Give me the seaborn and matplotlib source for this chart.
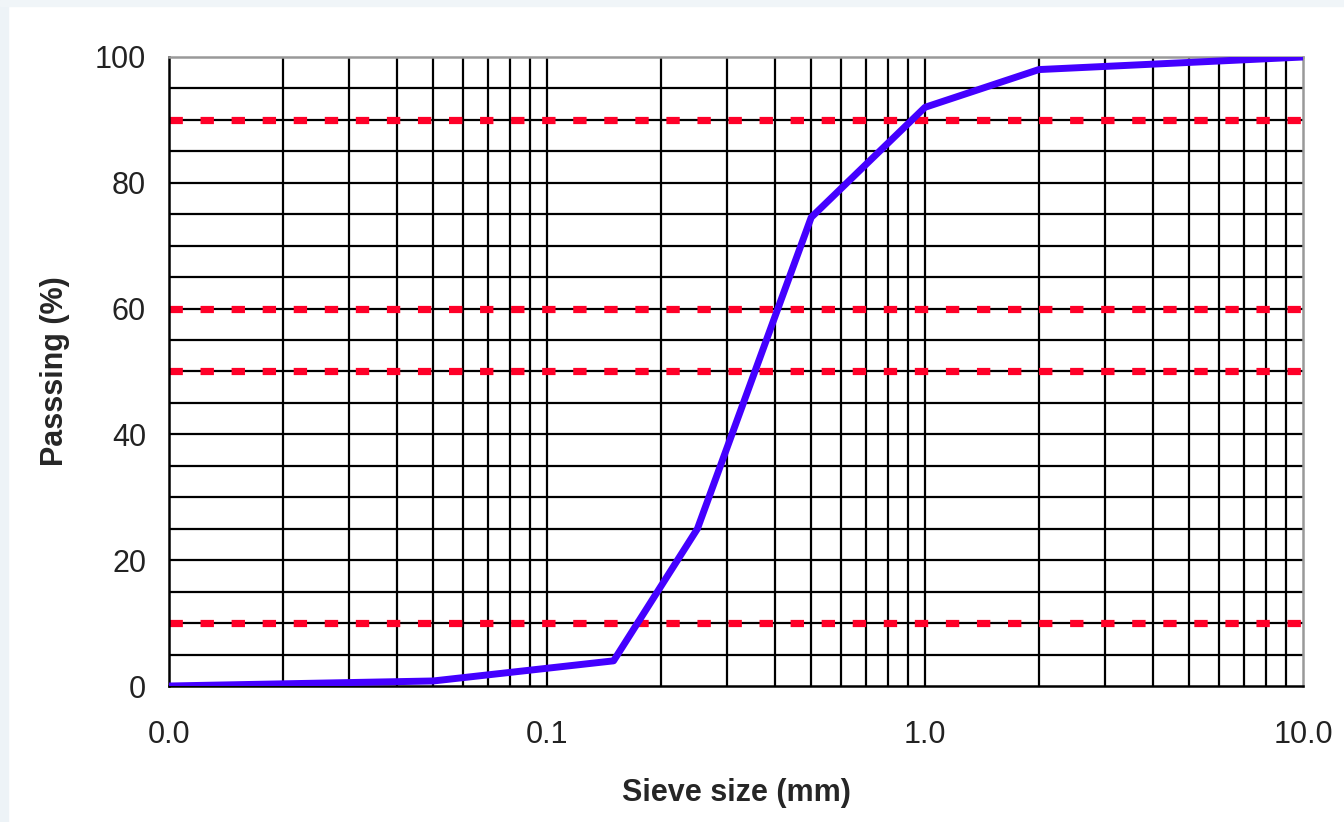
import numpy as np
import pandas as pd
import matplotlib
matplotlib.use("Agg")
import matplotlib.pyplot as plt
import matplotlib.ticker as mticker
from matplotlib.patches import Rectangle
import seaborn as sns

# grading curve
sieve_mm = [0.01, 0.05, 0.15, 0.25, 0.5, 1.0, 2.0, 10.0]
passing_pct = [0.0, 0.8, 4.0, 25.0, 74.5, 92.0, 98.0, 100.0]
ref_levels = [10, 50, 60, 90]
x_ticks = [0.01, 0.1, 1.0, 10.0]
x_labels = ["0.0", "0.1", "1.0", "10.0"]

df = pd.DataFrame({"sieve": sieve_mm, "passing": passing_pct})

sns.set_style("white")
plt.rcParams["font.family"] = ["Liberation Sans", "DejaVu Sans"]

W, H = 1344, 822
fig = plt.figure(figsize=(W / 100, H / 100), dpi=100)

# faint bluish strips along the left and top edge of the screenshot
fig.patches.append(Rectangle((0, 0), 8 / W, 1, transform=fig.transFigure,
                             color="#edf3f7", zorder=0))
fig.patches.append(Rectangle((0, 1 - 6 / H), 1, 6 / H, transform=fig.transFigure,
                             color="#f0f5f8", zorder=0))

ax = fig.add_axes([169 / W, 1 - 686 / H, (1303 - 169) / W, (686 - 57) / H])

ax.set_xscale("log")
ax.set_xlim(0.01, 10)
ax.set_ylim(0, 100)

# black grid: every minor decade step and every 5 %
minor_x = [m * 10.0 ** e for e in range(-2, 1) for m in range(1, 10)]
for xv in minor_x[1:]:
    ax.axvline(xv, color="black", lw=1.6, zorder=1)
for yv in range(5, 100, 5):
    ax.axhline(yv, color="black", lw=1.6, zorder=1)

# red dashed reference levels
for yv in ref_levels:
    ax.axhline(yv, color="#ff0028", lw=5.2, ls=(0, (1.85, 2.45)), zorder=2)

sns.lineplot(data=df, x="sieve", y="passing", color="#4400ff", lw=5,
             ax=ax, zorder=3)

ax.set_xticks(x_ticks)
ax.set_xticklabels(x_labels)
ax.xaxis.set_minor_locator(mticker.NullLocator())
ax.set_yticks(range(0, 101, 20))
ax.tick_params(axis="both", which="major", width=1.8, color="black",
               direction="out", labelsize=22, labelcolor="#222222")
ax.tick_params(axis="x", length=8.6, pad=16)
ax.tick_params(axis="y", length=6.5, pad=10)

for side in ["left", "bottom"]:
    ax.spines[side].set_color("black")
    ax.spines[side].set_linewidth(1.8)
for side in ["top", "right"]:
    ax.spines[side].set_color("#999999")
    ax.spines[side].set_linewidth(1.8)

ax.set_xlabel("Sieve size (mm)", fontsize=22, fontweight="bold", labelpad=20)
ax.set_ylabel("Passsing (%)", fontsize=22, fontweight="bold", labelpad=18)

fig.savefig("out.png", dpi=100, facecolor="white")
